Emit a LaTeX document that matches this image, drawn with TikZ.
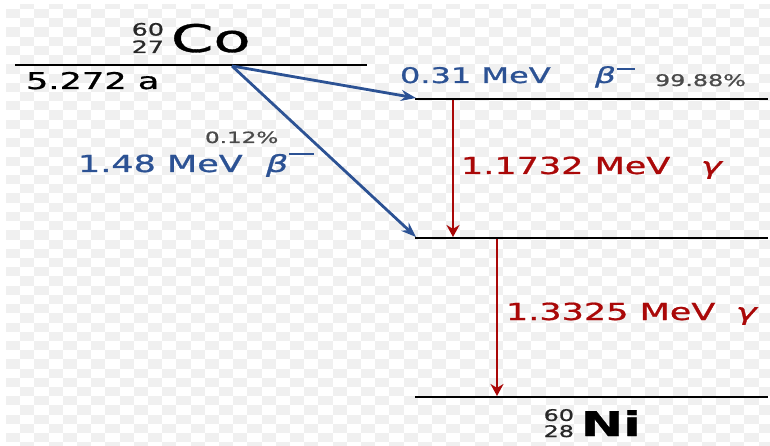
\documentclass[tikz,border=0pt]{standalone}
\usepackage{fontspec}
\setmainfont{DejaVu Sans}[FakeBold=0.8]
\newfontfamily\hv{DejaVu Sans}[FakeBold=0.8,ItalicFont=DejaVu Sans Oblique,ItalicFeatures={FakeBold=0.8}]
\usetikzlibrary{arrows.meta}
\definecolor{cblue}{RGB}{44,82,148}
\definecolor{cred}{RGB}{170,8,8}
\definecolor{cgray}{RGB}{75,75,75}
\definecolor{csup}{RGB}{40,40,40}
\definecolor{chk}{RGB}{240,240,240}
\newcommand{\sx}[1]{\scalebox{1.49}[1]{#1}}
\newcommand{\fs}[1]{\fontsize{#1}{#1}\selectfont\hv}
\newcommand{\nuc}[3]{\fontsize{#1}{#2}\selectfont\hv\color{csup}\begin{tabular}[b]{@{}r@{}}#3\end{tabular}}
\begin{document}
\begin{tikzpicture}[x=1pt,y=-1pt,
  lvl/.style={line width=2.8pt,black},
  lbl/.style={inner sep=0pt,outer sep=0pt,anchor=base west},
  lble/.style={inner sep=0pt,outer sep=0pt,anchor=base east},
  barrow/.style={cblue,line width=2.8pt,-{Stealth[length=15pt,width=11pt]}},
  garrow/.style={cred,line width=2.8pt,-{Stealth[length=12pt,width=13pt]}}]
\useasboundingbox (0,0) rectangle (770,446);
\clip (0,0) rectangle (770,446);
\fill[white] (0,0) rectangle (770,446);
\foreach \i in {0,...,53}{
  \foreach \j in {0,...,48}{
    \pgfmathtruncatemacro{\ckpar}{mod(\i+\j,2)}
    \ifnum\ckpar=1
      \fill[chk] ({6+\i*14.2},{-0.2+\j*9.22}) rectangle ++(14.2,9.22);
    \fi
  }
}
\fill[white] (0,0) rectangle (770,4);
% levels
\coordinate (L0a) at (15,65);  \coordinate (L0b) at (367,65);
\coordinate (L1a) at (415,99); \coordinate (L1b) at (768,99);
\coordinate (L2a) at (415,238);\coordinate (L2b) at (768,238);
\coordinate (L3a) at (415,397);\coordinate (L3b) at (768,397);
\draw[lvl] (L0a) -- (L0b);
\draw[lvl] (L1a) -- (L1b);
\draw[lvl] (L2a) -- (L2b);
\draw[lvl] (L3a) -- (L3b);
% beta arrows
\coordinate (src) at (232,66);
\coordinate (t1) at (416,98);
\coordinate (t2) at (416,237);
\draw[barrow] (src) -- (t1);
\draw[barrow] (src) -- (t2);
% gamma arrows
\coordinate (g1s) at (453,100); \coordinate (g1e) at (453,237);
\coordinate (g2s) at (497,239); \coordinate (g2e) at (497,396);
\draw[garrow] (g1s) -- (g1e);
\draw[garrow] (g2s) -- (g2e);
% Co
\node[lbl] (co) at (171,52) {\fs{38}\scalebox{1.6}[1]{Co}};
\node[lble] (coN) at (164,53) {\sx{\nuc{17}{16}{60\\27}}};
\node[lbl] (half) at (26,89) {\fs{23}\scalebox{1.53}[1]{5.272 a}};
% beta 0.31
\node[lbl] (e1) at (400,83) {\fs{21.5}\color{cblue}\sx{0.31 MeV}};
\node[lbl] (b1) at (595,83) {\fs{22}\color{cblue}\sx{\itshape β\hspace{0.5pt}\raisebox{13pt}{\rule{12.5pt}{2.4pt}}}};
\node[lbl] (p1) at (655,86) {\fs{16}\color{cgray}\sx{99.88\%}};
% beta 1.48
\node[lbl] (p2) at (205,143) {\fs{15.5}\color{cgray}\sx{0.12\%}};
\node[lbl] (e2) at (78,172) {\fs{23.5}\color{cblue}\sx{1.48 MeV}};
\node[lbl] (b2) at (266,172) {\fs{23.5}\color{cblue}\sx{\itshape β\hspace{0.5pt}\raisebox{17pt}{\rule{17pt}{2.4pt}}}};
% gammas
\node[lbl] (e3) at (461,174) {\fs{23.5}\color{cred}\sx{1.1732 MeV}};
\node[lbl] (y1) at (701,174) {\fs{23.5}\color{cred}\sx{\itshape γ}};
\node[lbl] (e4) at (506,320) {\fs{23.5}\color{cred}\sx{1.3325 MeV}};
\node[lbl] (y2) at (736,320) {\fs{23.5}\color{cred}\sx{\itshape γ}};
% Ni
\node[lbl] (ni) at (581,436) {\fs{34}\bfseries\sx{Ni}};
\node[lble] (niN) at (574,437) {\sx{\nuc{16}{14}{60\\28}}};
\end{tikzpicture}
\end{document}
